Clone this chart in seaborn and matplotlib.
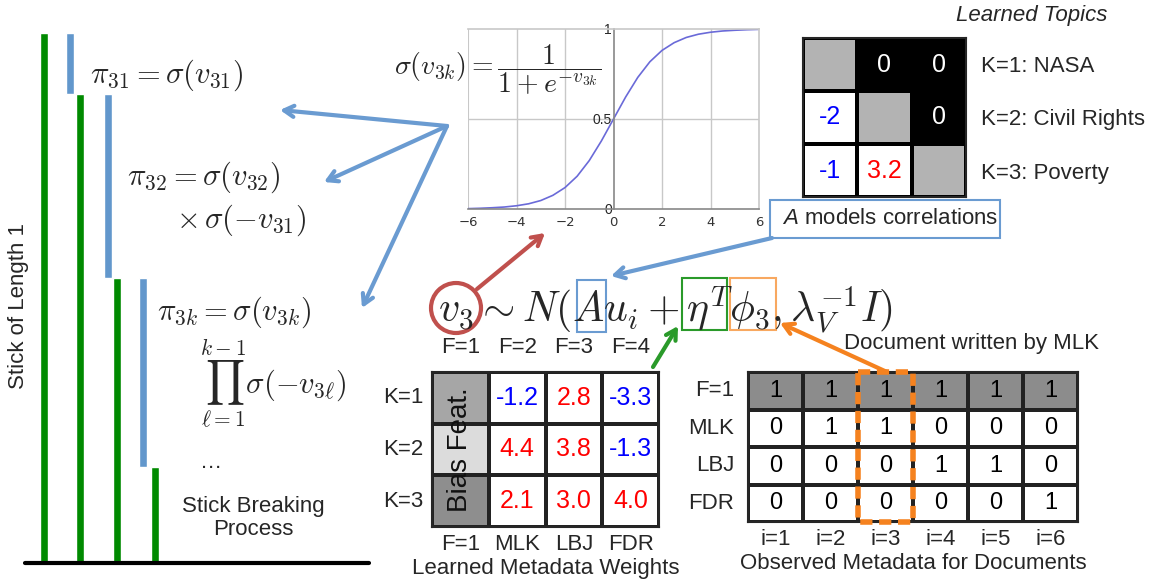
import numpy as np
import matplotlib
matplotlib.use("Agg")
import matplotlib.pyplot as plt
from matplotlib.colors import ListedColormap
from matplotlib.patches import Rectangle, Ellipse
import seaborn as sns

# ---------------- data ----------------
stick_breaks = [0.115, 0.348, 0.356]          # pieces broken off the stick

sig_x = [-6, -5.5, -5, -4.5, -4, -3.5, -3, -2.5, -2, -1.5, -1, -0.5, 0,
         0.5, 1, 1.5, 2, 2.5, 3, 3.5, 4, 4.5, 5, 5.5, 6]
sig_y = [0.002, 0.004, 0.007, 0.011, 0.018, 0.029, 0.047, 0.076, 0.119, 0.182,
         0.269, 0.378, 0.5, 0.622, 0.731, 0.818, 0.881, 0.924, 0.953, 0.971,
         0.982, 0.989, 0.993, 0.996, 0.998]
sig_xticks = [-6, -4, -2, 0, 2, 4, 6]
sig_yticks = [0, 0.5, 1]
sig_yticklabels = ["0", "0.5", "1"]

topic_names = ["K=1: NASA", "K=2: Civil Rights", "K=3: Poverty"]
topic_corr = [[np.nan, 0, 0],
              [-2, np.nan, 0],
              [-1, 3.2, np.nan]]

weight_rows = ["K=1", "K=2", "K=3"]
weight_top = ["F=1", "F=2", "F=3", "F=4"]
weight_bottom = ["F=1", "MLK", "LBJ", "FDR"]
bias_label = "Bias Feat."
weights = [[-1.2, 2.8, -3.3],
           [4.4, 3.8, -1.3],
           [2.1, 3.0, 4.0]]

meta_rows = ["F=1", "MLK", "LBJ", "FDR"]
doc_labels = ["i=1", "i=2", "i=3", "i=4", "i=5", "i=6"]
meta = [[1, 1, 1, 1, 1, 1],
        [0, 1, 1, 0, 0, 0],
        [0, 0, 0, 1, 1, 0],
        [0, 0, 0, 0, 0, 1]]
highlight_doc = 3

# ---------------- style ----------------
sns.set_style("white")
plt.rcParams["font.family"] = ["Liberation Sans", "DejaVu Sans"]
plt.rcParams["mathtext.fontset"] = "cm"
plt.rcParams["mathtext.it"] = "Liberation Sans:italic"
plt.rcParams["mathtext.rm"] = "Liberation Sans"

W, H = 1158, 586
fig = plt.figure(figsize=(W / 100, H / 100), dpi=100)
fig.patch.set_facecolor("white")

GREEN = "#008a00"
STICKBLUE = "#6297cc"
ARROWBLUE = "#6a9bd1"
RED = "#c0504d"
ORANGE = "#f5821f"
POS = "#ff0000"
NEG = "#0000ff"


def px_axes(x0, y0, x1, y1):
    return fig.add_axes([x0 / W, 1 - y1 / H, (x1 - x0) / W, (y1 - y0) / H])


# ---------------- stick breaking ----------------
ax_st = px_axes(25, 33, 369, 563)
remaining = 1 - np.concatenate([[0], np.cumsum(stick_breaks)])
green_x = [44, 80, 117, 155]
blue_x = [70, 108, 143]
ax_st.bar(green_x, remaining, width=8, bottom=0, color=GREEN)
ax_st.bar(blue_x, stick_breaks, width=8, bottom=remaining[1:], color=STICKBLUE)
ax_st.set_xlim(25, 369)
ax_st.set_ylim(0, 1)
ax_st.axhline(0, color="black", lw=3, clip_on=False)
ax_st.axis("off")

# ---------------- sigmoid ----------------
ax_sig = px_axes(468, 29, 759, 209)
sns.lineplot(x=sig_x, y=sig_y, ax=ax_sig, color="#6a6ad8", lw=1.2)
ax_sig.set_xlim(-6, 6)
ax_sig.set_ylim(0, 1)
ax_sig.set_xticks(sig_xticks)
ax_sig.set_xticklabels([str(v).replace("-", "\u2212") for v in sig_xticks],
                       family="DejaVu Sans", fontsize=9.5, color="#333333")
ax_sig.set_yticks(sig_yticks)
ax_sig.set_yticklabels(sig_yticklabels, family="DejaVu Sans", fontsize=9.5, color="#333333")
for v in [-4, -2, 2, 4]:
    ax_sig.axvline(v, color="#c8c8c8", lw=1, zorder=0)
ax_sig.axhline(0.5, color="#c8c8c8", lw=1, zorder=0)
ax_sig.axvline(-6, color="#c8c8c8", lw=1.5, zorder=0)
ax_sig.spines["left"].set_position(("data", 0))
ax_sig.spines["left"].set_color("#888888")
ax_sig.spines["bottom"].set_color("#888888")
ax_sig.spines["top"].set_color("#c8c8c8")
ax_sig.spines["right"].set_color("#c8c8c8")
for s in ax_sig.spines.values():
    s.set_visible(True)
    s.set_linewidth(1.2)
ax_sig.tick_params(axis="x", direction="in", length=5, color="#555555", pad=5)
ax_sig.tick_params(axis="y", length=0, pad=1)
ax_sig.set_facecolor("none")

# ---------------- topic correlation matrix A ----------------
ax_A = px_axes(803, 38, 966, 197)
n = len(topic_corr)
A_code = [[1 if i == j else (2 if j > i else 0) for j in range(n)] for i in range(n)]
A_text = [["" if np.isnan(v) else (f"{v:g}") for v in row] for row in topic_corr]
sns.heatmap(A_code, ax=ax_A, cmap=ListedColormap(["white", "#b3b3b3", "black"]),
            vmin=-0.5, vmax=2.5, cbar=False, linewidths=1.5, linecolor="black",
            annot=np.array(A_text), fmt="", annot_kws={"fontsize": 18},
            xticklabels=False, yticklabels=topic_names)
flat = [v for row in topic_corr for v in row]
codes = [c for row in A_code for c in row]
for t, v, c in zip(ax_A.texts, flat, codes):
    if c == 2:
        t.set_color("white")
    elif not np.isnan(v):
        t.set_color(POS if v > 0 else NEG)
ax_A.yaxis.tick_right()
ax_A.tick_params(axis="y", length=0, pad=11, labelsize=16, rotation=0)
for lab in ax_A.get_yticklabels():
    lab.set_ha("left")
for s in ax_A.spines.values():
    s.set_visible(True)
    s.set_linewidth(1.5)

# ---------------- learned metadata weights ----------------
ax_W = px_axes(432, 372, 659, 527)
W_code = [[k + 1] + [0] * len(weights[k]) for k in range(len(weights))]
W_text = [[""] + [f"{v:.1f}" for v in row] for row in weights]
sns.heatmap(W_code, ax=ax_W,
            cmap=ListedColormap(["white", "#a6a6a6", "#dcdcdc", "#8e8e8e"]),
            vmin=-0.5, vmax=3.5, cbar=False, linewidths=1.5, linecolor="#222222",
            annot=np.array(W_text), fmt="", annot_kws={"fontsize": 18},
            xticklabels=weight_bottom, yticklabels=weight_rows)
texts_W = ax_W.texts
idx = 0
for r, row in enumerate(weights):
    idx += 1  # bias column
    for v in row:
        texts_W[idx].set_color(POS if v > 0 else NEG)
        idx += 1
ax_W.tick_params(axis="both", length=0, labelsize=16)
ax_W.tick_params(axis="x", pad=5)
ax_W.tick_params(axis="y", pad=6, rotation=0)
sec = ax_W.secondary_xaxis("top")
sec.set_xticks(np.arange(len(weight_top)) + 0.5)
sec.set_xticklabels(weight_top, fontsize=16)
sec.tick_params(length=0, pad=10)
sec.spines["top"].set_visible(False)
ax_W.text(0.5, 1.5, bias_label, rotation=90, ha="center", va="center",
          fontsize=20, color="#111111")
ax_W.set_xlabel("Learned Metadata Weights", fontsize=16, labelpad=2)
for s in ax_W.spines.values():
    s.set_visible(True)
    s.set_linewidth(1.5)

# ---------------- observed metadata ----------------
ax_M = px_axes(748, 372, 1078, 522)
M_code = [[1 if r == 0 else 0 for _ in row] for r, row in enumerate(meta)]
sns.heatmap(M_code, ax=ax_M, cmap=ListedColormap(["white", "#8c8c8c"]),
            vmin=-0.5, vmax=1.5, cbar=False, linewidths=1.5, linecolor="#222222",
            annot=np.array(meta), fmt="d", annot_kws={"fontsize": 17, "color": "black"},
            xticklabels=doc_labels, yticklabels=meta_rows)
for t in ax_M.texts:
    t.set_color("black")
ax_M.tick_params(axis="both", length=0, labelsize=16)
ax_M.tick_params(axis="x", pad=5)
ax_M.tick_params(axis="y", pad=10, rotation=0)
ax_M.set_xlabel("Observed Metadata for Documents", fontsize=16, labelpad=2)
for s in ax_M.spines.values():
    s.set_visible(True)
    s.set_linewidth(1.5)
ax_M.add_patch(Rectangle((highlight_doc - 1, 0), 1, len(meta), fill=False,
                         edgecolor=ORANGE, lw=4, ls=(0, (2.2, 1.2)), clip_on=False, zorder=5))

# ---------------- overlay canvas ----------------
cv = fig.add_axes([0, 0, 1, 1])
cv.set_xlim(0, W)
cv.set_ylim(H, 0)
cv.axis("off")
cv.set_zorder(10)

cv.text(19, 306, "Stick of Length 1", rotation=90, ha="center", va="center", fontsize=16)
cv.text(253, 518, "Stick Breaking\nProcess", ha="center", va="center", fontsize=16,
        linespacing=1.15)
cv.text(90, 75, r"$\pi_{31} = \sigma(v_{31})$", ha="left", va="center", fontsize=22,
        math_fontfamily="cm")
cv.text(127, 177, r"$\pi_{32} = \sigma(v_{32})$", ha="left", va="center", fontsize=22,
        math_fontfamily="cm")
cv.text(176, 220, r"$\times\,\sigma(-v_{31})$", ha="left", va="center", fontsize=22,
        math_fontfamily="cm")
cv.text(157, 312, r"$\pi_{3k} = \sigma(v_{3k})$", ha="left", va="center", fontsize=22,
        math_fontfamily="cm")
cv.text(200, 384, r"$\prod_{\ell=1}^{k-1}\sigma(-v_{3\ell})$", ha="left", va="center",
        fontsize=22, math_fontfamily="cm")
cv.text(211, 463, "\u2026", ha="center", va="center", fontsize=16)

cv.text(394, 70, r"$\sigma(v_{3k}) = \dfrac{1}{1+e^{-v_{3k}}}$", ha="left", va="center",
        fontsize=20, math_fontfamily="cm")

cv.text(1032, 15, "Learned Topics", ha="center", va="center", fontsize=16, style="italic")

cv.add_patch(Rectangle((770, 200), 230, 38, facecolor="white", edgecolor=ARROWBLUE, lw=1.5))
cv.text(782, 219, r"$\mathit{A}$ models correlations", ha="left", va="center",
        fontsize=16, math_fontfamily="custom")

cv.text(438, 310, r"$v_3 \sim N(Au_i + \eta^T\phi_3, \lambda_V^{-1} I)$", ha="left",
        va="center", fontsize=30, math_fontfamily="cm")
cv.add_patch(Ellipse((456, 308), 50, 50, fill=False, edgecolor=RED, lw=3))
cv.add_patch(Rectangle((577, 280), 29, 52, fill=False, edgecolor=ARROWBLUE, lw=1.5))
cv.add_patch(Rectangle((682, 278), 45, 52, fill=False, edgecolor="#2a9a2a", lw=1.5))
cv.add_patch(Rectangle((730, 278), 46, 52, fill=False, edgecolor="#f8a860", lw=1.5))

cv.text(972, 343, "Document written by MLK", ha="center", va="center", fontsize=16)


def arrow(p0, p1, color, lw=3):
    cv.annotate("", xy=p1, xytext=p0,
                arrowprops=dict(arrowstyle="->,head_length=0.7,head_width=0.4",
                                color=color, lw=lw, shrinkA=0, shrinkB=0))


hub = (447, 126)
arrow(hub, (280, 110), ARROWBLUE)
arrow(hub, (324, 182), ARROWBLUE)
arrow(hub, (362, 308), ARROWBLUE)
arrow((477, 289), (545, 233), RED)
arrow((772, 238), (611, 276), ARROWBLUE)
arrow((653, 367), (678, 326), "#2a9a2a")
arrow((887, 372), (780, 323), ORANGE)

fig.savefig("out.png", dpi=100, facecolor="white")
